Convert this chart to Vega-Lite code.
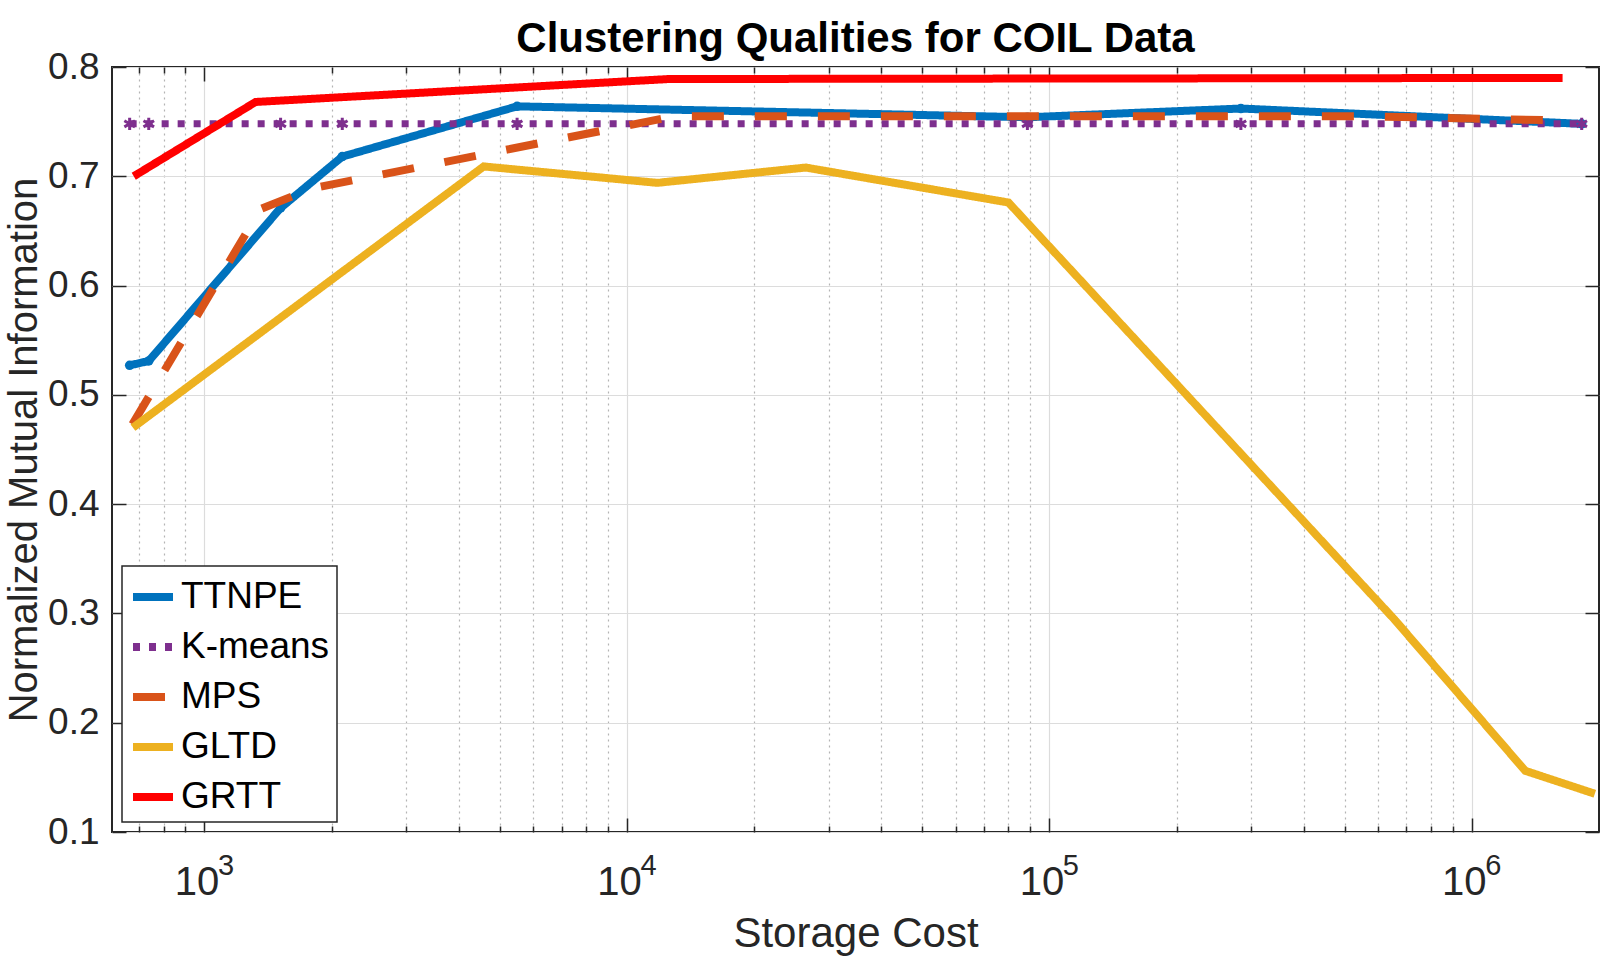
{
  "$schema": "https://vega.github.io/schema/vega-lite/v6.json",
  "width": 1487,
  "height": 765,
  "autosize": {"type": "none"},
  "padding": {"left": 112, "top": 67, "right": 24, "bottom": 126},
  "background": "white",
  "title": {
    "text": "Clustering Qualities for COIL Data",
    "font": "Liberation Sans",
    "fontSize": 42,
    "fontWeight": "bold",
    "color": "black",
    "anchor": "middle",
    "offset": 8,
    "dy": 21
  },
  "data": {
    "values": [
      {"series": "TTNPE", "cost": 665, "nmi": 0.527},
      {"series": "TTNPE", "cost": 738, "nmi": 0.531},
      {"series": "TTNPE", "cost": 1514, "nmi": 0.671},
      {"series": "TTNPE", "cost": 2119, "nmi": 0.718},
      {"series": "TTNPE", "cost": 5495, "nmi": 0.764},
      {"series": "TTNPE", "cost": 88700, "nmi": 0.754},
      {"series": "TTNPE", "cost": 284000, "nmi": 0.762},
      {"series": "TTNPE", "cost": 1820000, "nmi": 0.748},
      {"series": "K-means", "cost": 665, "nmi": 0.748},
      {"series": "K-means", "cost": 738, "nmi": 0.748},
      {"series": "K-means", "cost": 1514, "nmi": 0.748},
      {"series": "K-means", "cost": 2119, "nmi": 0.748},
      {"series": "K-means", "cost": 5495, "nmi": 0.748},
      {"series": "K-means", "cost": 88700, "nmi": 0.748},
      {"series": "K-means", "cost": 284000, "nmi": 0.748},
      {"series": "K-means", "cost": 1820000, "nmi": 0.748},
      {"series": "MPS", "cost": 675, "nmi": 0.473},
      {"series": "MPS", "cost": 1357, "nmi": 0.67},
      {"series": "MPS", "cost": 1800, "nmi": 0.689},
      {"series": "MPS", "cost": 13000, "nmi": 0.755},
      {"series": "MPS", "cost": 550000, "nmi": 0.755},
      {"series": "MPS", "cost": 1640000, "nmi": 0.751},
      {"series": "GLTD", "cost": 677, "nmi": 0.47},
      {"series": "GLTD", "cost": 4581, "nmi": 0.709},
      {"series": "GLTD", "cost": 11800, "nmi": 0.694},
      {"series": "GLTD", "cost": 26500, "nmi": 0.708},
      {"series": "GLTD", "cost": 80000, "nmi": 0.676},
      {"series": "GLTD", "cost": 654000, "nmi": 0.295},
      {"series": "GLTD", "cost": 1338000, "nmi": 0.156},
      {"series": "GLTD", "cost": 1955000, "nmi": 0.135},
      {"series": "GRTT", "cost": 680, "nmi": 0.7},
      {"series": "GRTT", "cost": 1321, "nmi": 0.768},
      {"series": "GRTT", "cost": 12560, "nmi": 0.789},
      {"series": "GRTT", "cost": 1640000, "nmi": 0.79}
    ]
  },
  "layer": [
    {
      "transform": [{"filter": "datum.series == 'TTNPE'"}],
      "mark": {"type": "line", "strokeWidth": 8},
      "encoding": {
        "x": {"field": "cost", "type": "quantitative",
          "scale": {"type": "log", "domain": [604, 2000000], "nice": false},
          "axis": {"orient": "bottom", "values": [1000, 10000, 100000, 1000000], "ticks": false, "grid": true,
            "labelFontSize": 40, "labelPadding": 30, "labelOffset": -8,
            "labelExpr": "'10'",
            "title": "Storage Cost", "titleFontSize": 42, "titlePadding": 11}},
        "y": {"field": "nmi", "type": "quantitative",
          "scale": {"domain": [0.1, 0.8], "nice": false, "zero": false},
          "axis": {"orient": "left", "values": [0.1, 0.2, 0.3, 0.4, 0.5, 0.6, 0.7, 0.8], "format": ".1f", "ticks": false, "grid": true,
            "labelFontSize": 37, "labelPadding": 13,
            "title": "Normalized Mutual Information", "titleFontSize": 40, "titlePadding": 3}},
        "color": {"field": "series", "type": "nominal", "title": null,
          "scale": {"domain": ["TTNPE", "K-means", "MPS", "GLTD", "GRTT"], "range": ["#0072BD", "#7E2F8E", "#D95319", "#EDB120", "#FF0000"]}},
        "strokeDash": {"field": "series", "type": "nominal", "title": null,
          "scale": {"domain": ["TTNPE", "K-means", "MPS", "GLTD", "GRTT"], "range": [[1, 0], [7, 9], [32, 31], [1, 0], [1, 0]]}}
      }
    },
    {
      "transform": [{"filter": "datum.series == 'TTNPE'"}],
      "mark": {"type": "point", "shape": "circle", "filled": true, "size": 90, "color": "#0072BD", "opacity": 1},
      "encoding": {
        "x": {"field": "cost", "type": "quantitative",
          "axis": {"orient": "bottom", "values": [1000, 10000, 100000, 1000000], "labels": false, "grid": false, "tickSize": -14, "title": null}},
        "y": {"field": "nmi", "type": "quantitative",
          "axis": {"orient": "left", "values": [0.1, 0.2, 0.3, 0.4, 0.5, 0.6, 0.7, 0.8], "labels": false, "grid": false, "tickSize": -14, "title": null}}
      }
    },
    {
      "transform": [{"filter": "datum.series == 'K-means'"}],
      "mark": {"type": "line", "strokeWidth": 7},
      "encoding": {
        "x": {"field": "cost", "type": "quantitative",
          "axis": {"orient": "bottom", "values": [700, 800, 900, 2000, 3000, 4000, 5000, 6000, 7000, 8000, 9000, 20000, 30000, 40000, 50000, 60000, 70000, 80000, 90000, 200000, 300000, 400000, 500000, 600000, 700000, 800000, 900000],
            "labels": false, "grid": true, "gridDash": [2, 4], "gridColor": "#b4b4b4", "tickSize": -6, "title": null}},
        "y": {"field": "nmi", "type": "quantitative",
          "axis": {"orient": "right", "values": [0.1, 0.2, 0.3, 0.4, 0.5, 0.6, 0.7, 0.8], "labels": false, "grid": false, "tickSize": -14, "title": null}},
        "color": {"field": "series", "type": "nominal", "title": null},
        "strokeDash": {"field": "series", "type": "nominal", "title": null}
      }
    },
    {
      "transform": [{"filter": "datum.series == 'K-means'"}],
      "mark": {"type": "point", "shape": "M0,-1L0,1M-0.866,-0.5L0.866,0.5M-0.866,0.5L0.866,-0.5", "filled": false, "stroke": "#7E2F8E", "strokeWidth": 3, "size": 150, "opacity": 1},
      "encoding": {
        "x": {"field": "cost", "type": "quantitative",
          "axis": {"orient": "top", "values": [1000, 10000, 100000, 1000000], "labels": false, "grid": false, "tickSize": -14, "title": null}},
        "y": {"field": "nmi", "type": "quantitative", "axis": null}
      }
    },
    {
      "transform": [{"filter": "datum.series == 'MPS'"}],
      "mark": {"type": "line", "strokeWidth": 8},
      "encoding": {
        "x": {"field": "cost", "type": "quantitative",
          "axis": {"orient": "top", "values": [700, 800, 900, 2000, 3000, 4000, 5000, 6000, 7000, 8000, 9000, 20000, 30000, 40000, 50000, 60000, 70000, 80000, 90000, 200000, 300000, 400000, 500000, 600000, 700000, 800000, 900000],
            "labels": false, "grid": false, "tickSize": -6, "title": null}},
        "y": {"field": "nmi", "type": "quantitative", "axis": null},
        "color": {"field": "series", "type": "nominal", "title": null},
        "strokeDash": {"field": "series", "type": "nominal", "title": null}
      }
    },
    {
      "transform": [{"filter": "datum.series == 'GLTD'"}],
      "mark": {"type": "line", "strokeWidth": 8},
      "encoding": {
        "x": {"field": "cost", "type": "quantitative",
          "axis": {"orient": "bottom", "values": [1000, 10000, 100000, 1000000], "ticks": false, "grid": false,
            "labelFontSize": 29, "labelPadding": 19, "labelOffset": 21,
            "labelExpr": "datum.value == 1000 ? '3' : datum.value == 10000 ? '4' : datum.value == 100000 ? '5' : '6'",
            "title": null}},
        "y": {"field": "nmi", "type": "quantitative", "axis": null},
        "color": {"field": "series", "type": "nominal", "title": null},
        "strokeDash": {"field": "series", "type": "nominal", "title": null}
      }
    },
    {
      "transform": [{"filter": "datum.series == 'GRTT'"}],
      "mark": {"type": "line", "strokeWidth": 8},
      "encoding": {
        "x": {"field": "cost", "type": "quantitative", "axis": null},
        "y": {"field": "nmi", "type": "quantitative", "axis": null},
        "color": {"field": "series", "type": "nominal", "title": null},
        "strokeDash": {"field": "series", "type": "nominal", "title": null}
      }
    }
  ],
  "resolve": {"axis": {"x": "independent", "y": "independent"}},
  "config": {
    "view": {"stroke": "#262626", "strokeWidth": 2, "fill": "white"},
    "axis": {
      "labelFont": "Liberation Sans", "titleFont": "Liberation Sans",
      "labelColor": "#262626", "titleColor": "#262626", "titleFontWeight": "normal",
      "tickColor": "#262626", "tickWidth": 1.5, "domain": false,
      "gridColor": "#dcdcdc", "gridWidth": 1.2
    },
    "legend": {
      "orient": "bottom-left", "offset": 10, "padding": 7,
      "labelFont": "Liberation Sans", "labelFontSize": 37, "labelColor": "black", "labelLimit": 400, "labelOffset": 4,
      "symbolType": "stroke", "symbolSize": 1600, "symbolStrokeWidth": 8,
      "rowPadding": 8, "strokeColor": "#262626", "strokeWidth": 1.5, "fillColor": "white", "cornerRadius": 0
    }
  }
}
